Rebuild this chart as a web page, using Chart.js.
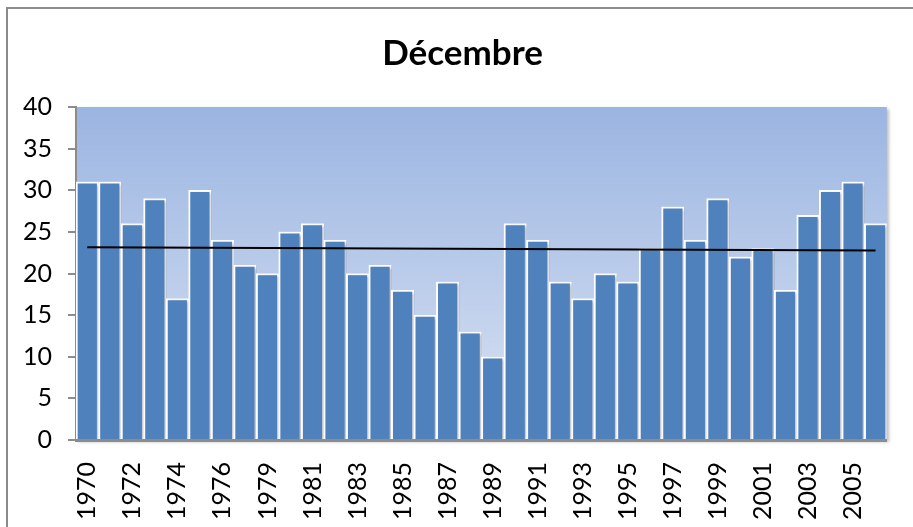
<!DOCTYPE html>
<html>
<head>
<meta charset="utf-8">
<script src="https://cdn.jsdelivr.net/npm/chart.js@4/dist/chart.umd.min.js"></script>
<style>
  html, body { margin: 0; padding: 0; background: #fff; overflow: hidden; }
  #frame {
    position: absolute; left: 6px; top: 7px; width: 930px; height: 540px;
    border: 2px solid #8a8a8a; box-sizing: border-box;
  }
  #c { position: absolute; left: 0; top: 0; }
</style>
</head>
<body>
<div id="frame"></div>
<canvas id="c" width="920" height="527"></canvas>
<script>
// December values per year (1977 not recorded)
const years = ['1970','1971','1972','1973','1974','1975','1976','1978','1979','1980',
               '1981','1982','1983','1984','1985','1986','1987','1988','1989','1990',
               '1991','1992','1993','1994','1995','1996','1997','1998','1999','2000',
               '2001','2002','2003','2004','2005','2006'];
const decemberValues = [31,31,26,29,17,30,24,21,20,25,
                        26,24,20,21,18,15,19,13,10,26,
                        24,19,17,20,19,23,28,24,29,22,
                        23,18,27,30,31,26];
// linear trend: value at the first and last year
const trendStart = 23.15;
const trendEnd = 22.75;
const yTicks = [0,5,10,15,20,25,30,35,40];

const trendData = years.map((_, i) => i === 0 ? trendStart : (i === years.length - 1 ? trendEnd : null));

// centre the title on the outer frame rather than on the padded layout box
const titleOffset = {
  id: 'titleOffset',
  afterLayout(chart) {
    const t = chart.titleBlock;
    if (t) { t.left += 15; t.right += 15; }
  }
};

const plotBackground = {
  id: 'plotBackground',
  beforeDraw(chart) {
    const { ctx, chartArea: a } = chart;
    const g = ctx.createLinearGradient(0, a.top, 0, a.bottom);
    g.addColorStop(0, '#9BB5E1');
    g.addColorStop(1, '#DAE3F4');
    ctx.save();
    ctx.shadowColor = 'rgba(0,0,0,0.25)';
    ctx.shadowOffsetX = 2;
    ctx.shadowOffsetY = 2;
    ctx.shadowBlur = 3;
    ctx.fillStyle = g;
    ctx.fillRect(a.left, a.top, a.right - a.left, a.bottom - a.top);
    ctx.restore();
  }
};

const barShadow = {
  id: 'barShadow',
  beforeDatasetDraw(chart, args) {
    if (args.index !== 1) return;
    const ctx = chart.ctx;
    ctx.save();
    ctx.shadowColor = 'rgba(40,50,80,0.35)';
    ctx.shadowOffsetX = 2;
    ctx.shadowOffsetY = 1;
    ctx.shadowBlur = 3;
  },
  afterDatasetDraw(chart, args) {
    if (args.index !== 1) return;
    chart.ctx.restore();
  }
};

new Chart(document.getElementById('c'), {
  data: {
    labels: years,
    datasets: [
      {
        type: 'line',
        data: trendData,
        spanGaps: true,
        borderColor: '#000',
        borderWidth: 2,
        pointRadius: 0,
        order: 0
      },
      {
        type: 'bar',
        data: decemberValues,
        backgroundColor: '#4F81BD',
        borderColor: '#ffffff',
        borderWidth: 2,
        categoryPercentage: 1.0,
        barPercentage: 1.0,
        order: 1
      }
    ]
  },
  options: {
    responsive: false,
    animation: false,
    layout: { padding: { left: 7, right: 32, top: 0, bottom: 0 } },
    plugins: {
      legend: { display: false },
      tooltip: { enabled: false },
      title: {
        display: true,
        text: 'Décembre',
        color: '#000',
        font: { family: 'Lato', size: 35, weight: 'bold' },
        padding: { top: 33, bottom: 32 }
      }
    },
    scales: {
      x: {
        grid: { display: false },
        border: { display: true, color: '#8c8c8c', width: 3 },
        ticks: {
          autoSkip: false,
          minRotation: 90,
          maxRotation: 90,
          padding: 14,
          color: '#000',
          font: { family: 'Lato', size: 25 },
          callback: (v, i) => i % 2 === 0 ? years[i] : ''
        },
        afterFit(scale) { scale.height = 87; }
      },
      y: {
        min: 0,
        max: 40,
        afterBuildTicks(scale) { scale.ticks = yTicks.map(v => ({ value: v })); },
        grid: { drawOnChartArea: false, drawTicks: true, tickLength: 8, color: '#8c8c8c', lineWidth: 2 },
        border: { display: true, color: '#8c8c8c', width: 2 },
        ticks: {
          padding: 16,
          color: '#000',
          font: { family: 'Lato', size: 25 }
        },
        afterFit(scale) { scale.width = 69; }
      }
    }
  },
  plugins: [plotBackground, barShadow, titleOffset]
});
</script>
</body>
</html>
